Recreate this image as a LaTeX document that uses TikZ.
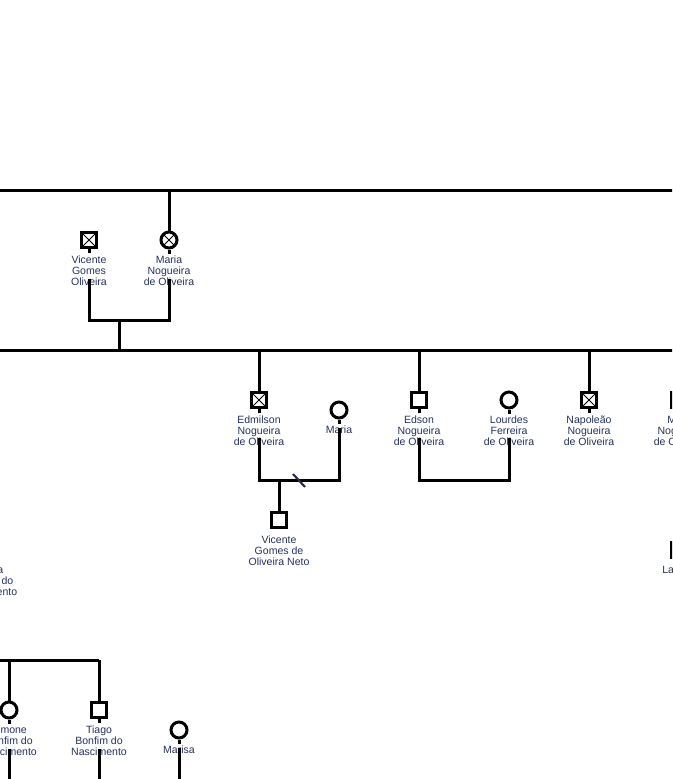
\documentclass[tikz,border=0pt]{standalone}
\usepackage{fontspec}
\setmainfont{Liberation Sans}
\definecolor{txt}{RGB}{38,48,92}
\definecolor{slash}{RGB}{45,45,60}
\newcommand\plbl[4]{\foreach \lbltext [count=\i] in {#4}{\node[lbl] (#1-\i) at (#2,#3+11*\i-11) {\lbltext};}}
\begin{document}
\begin{tikzpicture}[x=0.75pt,y=-0.75pt,
  line/.style={line width=2.25pt},
  lbl/.style={anchor=base, inner sep=0pt, text=txt, font=\fontsize{7.9}{8.25}\selectfont},
  lblw/.style={lbl, anchor=base west},
  lble/.style={lbl, anchor=base east},
  male/.style={draw, rectangle, line width=2.25pt, minimum size=11.25pt, inner sep=0pt},
  female/.style={draw, circle, line width=2.25pt, minimum size=12pt, inner sep=0pt},
  dead/.style={path picture={\draw[line width=0.75pt]
      (path picture bounding box.north west) -- (path picture bounding box.south east)
      (path picture bounding box.north east) -- (path picture bounding box.south west);}}]
\useasboundingbox (0,0) rectangle (672,779);
\clip (0,0) rectangle (672,779);

% ---- generation lines
\coordinate (g1L) at (-10,190); \coordinate (g1R) at (690,190);
\coordinate (g2L) at (-10,350); \coordinate (g2R) at (690,350);
\draw[line] (g1L) -- (g1R);
\draw[line] (g2L) -- (g2R);

% ---- Vicente & Maria
\node[male,dead] (vic) at (89,240) {};
\node[female,dead] (mar) at (169,240) {};
\coordinate (marTop) at (169,190);
\draw[line] (marTop) -- (mar.north);
\draw[line] (vic.south) -- ++(0,4);
\draw[line] (mar.south) -- ++(0,4);
\plbl{vicL}{89}{263}{Vicente,Gomes,Oliveira}
\plbl{marL}{169}{263}{Maria,Nogueira,de Oliveira}
\coordinate (vicU) at (89,320); \coordinate (marU) at (169,320);
\coordinate (vicD) at (89,279); \coordinate (marD) at (169,279);
\draw[line] (vicD) -- (vicU) -- (marU) -- (marD);
\coordinate (vmC) at (119,320); \coordinate (vmD) at (119,350);
\draw[line] (vmC) -- (vmD);

% ---- generation 2
\node[male,dead] (edm) at (259,400) {};
\node[female] (mria) at (339,410) {};
\node[male] (eds) at (419,400) {};
\node[female] (lou) at (509,400) {};
\node[male,dead] (nap) at (589,400) {};
\node[male] (mx) at (679,400) {};
\foreach \n/\x in {edm/259, eds/419, nap/589, mx/679}{
  \coordinate (\n T) at (\x,350);
  \draw[line] (\n T) -- (\n.north);}
\foreach \n in {edm,mria,eds,lou,nap}{\draw[line] (\n.south) -- ++(0,4);}
\plbl{edmL}{259}{423}{Edmilson,Nogueira,de Oliveira}
\plbl{mriaL}{339}{433}{Maria}
\plbl{edsL}{419}{423}{Edson,Nogueira,de Oliveira}
\plbl{louL}{509}{423}{Lourdes,Ferreira,de Oliveira}
\plbl{napL}{589}{423}{Napoleão,Nogueira,de Oliveira}
\node[lblw] (mxL1) at (667,423) {M};
\node[lbl] (mxL2) at (679,434) {Nogueira};
\node[lbl] (mxL3) at (679,445) {de Oliveira};

% Edmilson + Maria
\coordinate (edmD) at (259,438); \coordinate (edmU) at (259,480);
\coordinate (mriaD) at (339,428); \coordinate (mriaU) at (339,480);
\draw[line] (edmD) -- (edmU) -- (mriaU) -- (mriaD);
\coordinate (slA) at (293,474); \coordinate (slB) at (305,487);
\draw[slash, line width=1.6pt] (slA) -- (slB);
\node[male] (vnet) at (279,520) {};
\coordinate (vnetU) at (279,480);
\draw[line] (vnetU) -- (vnet.north);
\plbl{vnetL}{279}{543}{Vicente,Gomes de,Oliveira Neto}

% Edson + Lourdes
\coordinate (edsD) at (419,438); \coordinate (edsU) at (419,480);
\coordinate (louD) at (509,438); \coordinate (louU) at (509,480);
\draw[line] (edsD) -- (edsU) -- (louU) -- (louD);

% right partial
\node[male] (la) at (679,550) {};
\node[lblw] (laL) at (662,573) {La};

% left partial label
\node[lble] (lpA) at (3.5,573) {a};
\node[lble] (lpB) at (13.5,584) {do};
\node[lble] (lpC) at (17.5,595) {ento};

% ---- bottom family
\coordinate (bL) at (-10,660); \coordinate (bR) at (99,660);
\draw[line] (bL) -- (bR);
\node[female] (sim) at (9,710) {};
\node[male] (tia) at (99,710) {};
\node[female] (mrs) at (179,730) {};
\coordinate (simT) at (9,660);
\draw[line] (simT) -- (sim.north);
\draw[line] (bR) -- (tia.north);
\foreach \n in {sim,tia,mrs}{\draw[line] (\n.south) -- ++(0,4);}
\plbl{simL}{9}{733}{Simone,Bonfim do,Nascimento}
\plbl{tiaL}{99}{733}{Tiago,Bonfim do,Nascimento}
\plbl{mrsL}{179}{753}{Marisa}
\coordinate (simD) at (9,749); \coordinate (simB) at (9,790);
\coordinate (tiaD) at (99,749); \coordinate (tiaB) at (99,790);
\coordinate (mrsD) at (179,748); \coordinate (mrsB) at (179,790);
\draw[line] (simD) -- (simB);
\draw[line] (tiaD) -- (tiaB);
\draw[line] (mrsD) -- (mrsB);
\end{tikzpicture}
\end{document}
